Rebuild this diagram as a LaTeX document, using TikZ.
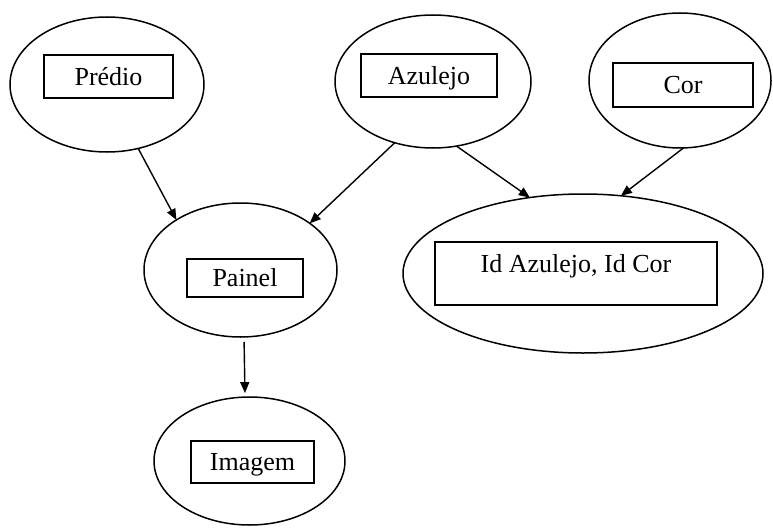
\documentclass[tikz,border=0pt]{standalone}
\usepackage{fontspec}
\setmainfont{Liberation Serif}
\usetikzlibrary{shapes.geometric,arrows.meta}
\begin{document}
\begin{tikzpicture}[x=1pt,y=-1pt,
  oval/.style={draw, ellipse, line width=1.5pt, inner sep=0pt, outer sep=0pt},
  tbox/.style={draw, rectangle, line width=1.5pt, inner sep=0pt, outer sep=0pt,
    font=\fontsize{26}{30}\selectfont, text height=17pt, text depth=0pt},
  ttext/.style={inner sep=0pt, font=\fontsize{26}{30}\selectfont, text height=17pt, text depth=0pt},
  link/.style={line width=1.4pt, -{Triangle[length=11pt,width=9pt]}}]
\useasboundingbox (0,0) rectangle (773,527);
% ellipses
\node[oval, minimum width=194pt, minimum height=135pt] (pre) at (107,84.5) {};
\node[oval, minimum width=196pt, minimum height=133pt] (azu) at (433,81.5) {};
\node[oval, minimum width=182pt, minimum height=135pt] (cor) at (680,80.5) {};
\node[oval, minimum width=193pt, minimum height=134pt] (pai) at (240.5,270) {};
\node[oval, minimum width=360pt, minimum height=159pt] (idc) at (583,273.5) {};
\node[oval, minimum width=191pt, minimum height=128pt] (ima) at (249.5,461) {};
% boxes
\node[tbox, minimum width=129pt, minimum height=43pt] (preb) at (108.5,76.5) {Prédio};
\node[tbox, minimum width=136pt, minimum height=43pt] (azub) at (429,75.5) {Azulejo};
\node[tbox, minimum width=140pt, minimum height=44pt] (corb) at (683,85) {Cor};
\node[tbox, minimum width=116pt, minimum height=38pt] (paib) at (245,278) {Painel};
\node[tbox, minimum width=282pt, minimum height=63pt] (idcb) at (576,273.5) {};
\node[ttext] (idct) at (576,263.5) {Id Azulejo, Id Cor};
\node[tbox, minimum width=123pt, minimum height=42pt] (imab) at (252.5,462) {Imagem};
% connectors
\draw[link] (pre.-64) -- (pai.142.9);
\draw[link] (azu.-122) -- (pai.34.6);
\draw[link] (azu.-70.2) -- (idc.125.5);
\draw[link] (cor.-87.6) -- (idc.64.8);
\draw[link, shorten <=5pt, shorten >=4pt] (pai.-87.3) -- (ima.94.4);
\end{tikzpicture}
\end{document}
